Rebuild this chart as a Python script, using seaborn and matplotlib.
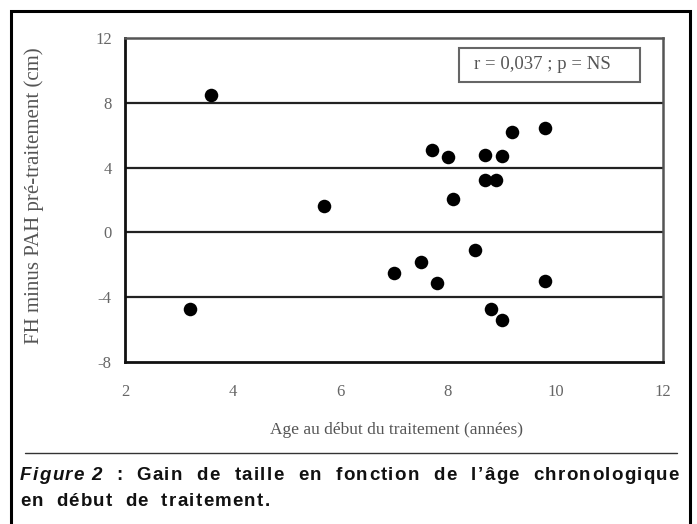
import matplotlib
matplotlib.use("Agg")
import matplotlib.pyplot as plt
import seaborn as sns
import pandas as pd
from matplotlib.patches import Rectangle
from matplotlib.lines import Line2D

# ---- data ----
age = [3.6, 3.2, 5.7, 7.0, 7.5, 7.7, 7.8, 8.0, 8.1, 8.5,
       8.7, 8.7, 8.8, 8.9, 9.0, 9.0, 9.2, 9.8, 9.8]
gain = [8.5, -4.7, 1.65, -2.5, -1.8, 5.1, -3.1, 4.65, 2.05, -1.1,
        4.8, 3.25, -4.7, 3.25, 4.7, -5.4, 6.2, 6.45, -3.0]
x_ticks = [2, 4, 6, 8, 10, 12]
y_ticks = [-8, -4, 0, 4, 8, 12]
x_label = "Age au début du traitement (années)"
y_label = "FH minus PAH pré-traitement (cm)"
annot = "r = 0,037 ; p = NS"
cap_line1 = ["Figure 2", ":", "Gain", "de", "taille", "en", "fonction", "de",
             "l\u2019âge", "chronologique"]
cap_line2 = ["en", "début", "de", "traitement."]

df = pd.DataFrame({"age": age, "gain": gain})

sns.set_style("white")
plt.rcParams["font.family"] = ["Liberation Serif", "DejaVu Serif"]

W, H = 697, 524
fig = plt.figure(figsize=(W / 100, H / 100), dpi=100)

def fx(px):
    return px / W

def fy(py):
    return 1 - py / H

ax = fig.add_axes([fx(125), fy(362), fx(663) - fx(125), fy(38) - fy(362)])
sns.scatterplot(data=df, x="age", y="gain", ax=ax, color="black", s=95,
                edgecolor="black", linewidth=0, zorder=5)
ax.set_xlim(2, 12)
ax.set_ylim(-8, 12)
ax.set_xticks(x_ticks)
ax.set_yticks(y_ticks)
ax.set_xticklabels([str(v) for v in x_ticks])
ax.set_yticklabels([str(v) for v in y_ticks])
for v in [-4, 0, 4, 8]:
    ax.axhline(v, color="#222222", lw=1.6, zorder=1)
for side in ["left", "bottom"]:
    ax.spines[side].set_linewidth(2.0)
    ax.spines[side].set_color("#111111")
for side in ["top", "right"]:
    ax.spines[side].set_linewidth(1.8)
    ax.spines[side].set_color("#555555")
ax.tick_params(axis="x", direction="in", length=7, width=2, colors="#111111",
               labelcolor="#666666", labelsize=12, pad=16)
ax.tick_params(axis="y", direction="inout", length=7, width=1.5, colors="#111111",
               labelcolor="#666666", labelsize=12, pad=6)
ax.set_xlabel("")
ax.set_ylabel("")

fig.text(fx(396), fy(430), x_label, ha="center", va="center", fontsize=12.5,
         color="#555555")
fig.text(fx(34), fy(196), y_label, ha="center", va="center", rotation=90,
         fontsize=15, color="#555555")

# annotation box
ax.add_patch(Rectangle((0.621, 0.864), 0.957 - 0.621, 0.969 - 0.864,
                       transform=ax.transAxes, facecolor="white",
                       edgecolor="#666666", linewidth=1.5, zorder=6))
ax.text(0.775, 0.917, annot, transform=ax.transAxes, ha="center", va="center",
        fontsize=13.5, color="#555555", zorder=7)

# outer frame
fig.patches.append(Rectangle((fx(11), -0.05), fx(690) - fx(11), fy(11) + 0.05,
                             transform=fig.transFigure, fill=False,
                             edgecolor="black", linewidth=2.2))
fig.lines.append(Line2D([fx(25), fx(677)], [fy(453), fy(453)],
                        transform=fig.transFigure, color="#333333", lw=1.0))

# caption with letter tracking; first line justified
fig.canvas.draw()
renderer = fig.canvas.get_renderer()
cap_font = ["Liberation Sans", "DejaVu Sans"]
fs = 13.5
track = 1.3

def make_word(word, ypix, italic):
    chars = []
    for ch in word:
        t = fig.text(0, fy(ypix), ch, ha="left", va="center", fontsize=fs,
                     fontweight="bold", style="italic" if italic else "normal",
                     family=cap_font, color="#111111")
        chars.append(t)
    widths = [c.get_window_extent(renderer).width if c.get_text() != " " else 4.5
              for c in chars]
    total = sum(widths) + track * (len(chars) - 1)
    return chars, widths, total

def place(chars, widths, x):
    for c, w in zip(chars, widths):
        c.set_x(fx(x))
        x += w + track

line1 = [make_word(w, 475, i == 0) for i, w in enumerate(cap_line1)]
x0, x1 = 20, 679
gap = (x1 - x0 - sum(w[2] for w in line1)) / (len(line1) - 1)
xpos = x0
for chars, widths, total in line1:
    place(chars, widths, xpos)
    xpos += total + gap

line2 = [make_word(w, 501, False) for w in cap_line2]
xpos = x0
for chars, widths, total in line2:
    place(chars, widths, xpos)
    xpos += total + 13

fig.savefig("out.png", dpi=100)
